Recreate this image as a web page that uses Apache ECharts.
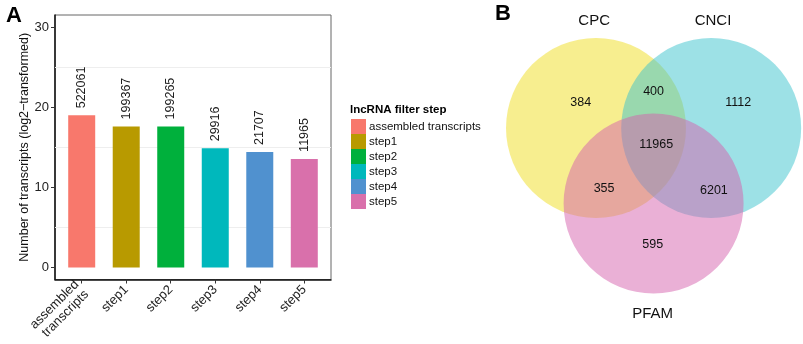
<!DOCTYPE html>
<html>
<head>
<meta charset="utf-8">
<script src="https://cdn.jsdelivr.net/npm/echarts@6/dist/echarts.min.js"></script>
<style>
  html, body { margin: 0; padding: 0; background: #fff; }
  #chart { width: 803px; height: 344px; }
</style>
</head>
<body>
<div id="chart"></div>
<script>
// panel A data
var categories = ['assembled\ntranscripts', 'step1', 'step2', 'step3', 'step4', 'step5'];
var legendNames = ['assembled transcripts', 'step1', 'step2', 'step3', 'step4', 'step5'];
var log2Counts = [18.99, 17.6, 17.6, 14.87, 14.41, 13.55];
var countLabels = ['522061', '199367', '199265', '29916', '21707', '11965'];
var barColors = ['#F8786C', '#B89A00', '#00B03C', '#00B8BC', '#5091CF', '#D970AB'];
var yTicks = [0, 10, 20, 30];
var yMinorGrid = [5, 15, 25];

// panel B data (venn)
var vennSets = ['CPC', 'CNCI', 'PFAM'];
var vennCenters = [[0, 0], [1.28, 0], [0.64, -0.84]];
var vennRadius = 1;
var vennColors = ['#EFDD20', '#3BC3CD', '#D561AD'];
var vennSetLabelPos = [[-0.02, 1.19], [1.3, 1.19], [0.63, -2.06]];
var vennCounts = ['384', '400', '1112', '11965', '355', '6201', '595'];
var vennCountPos = [[-0.17, 0.28], [0.64, 0.4], [1.58, 0.28], [0.67, -0.18], [0.09, -0.67], [1.31, -0.69], [0.63, -1.29]];

var FONT = 'Liberation Sans';

var series = [];

// faint minor grid lines, kept behind the bars
series.push({
    type: 'line',
    xAxisIndex: 0,
    yAxisIndex: 0,
    z: 1,
    silent: true,
    data: [],
    markLine: {
        z: 1,
        silent: true,
        symbol: 'none',
        label: { show: false },
        lineStyle: { color: '#EEEEEE', width: 1, type: 'solid' },
        data: yMinorGrid.map(function (v) { return { yAxis: v }; })
    }
});

for (var i = 0; i < categories.length; i++) {
    series.push({
        name: legendNames[i],
        type: 'bar',
        xAxisIndex: 0,
        yAxisIndex: 0,
        z: 3,
        barWidth: 27,
        barGap: '-100%',
        itemStyle: { color: barColors[i] },
        label: {
            show: true,
            position: 'top',
            rotate: 90,
            align: 'left',
            verticalAlign: 'middle',
            distance: 7,
            fontFamily: FONT,
            fontSize: 12.5,
            color: '#1a1a1a',
            formatter: (function (k) { return function () { return countLabels[k]; }; })(i)
        },
        data: [[i + 1, log2Counts[i]]]
    });
}

series.push({
    type: 'custom',
    xAxisIndex: 1,
    yAxisIndex: 1,
    silent: true,
    renderItem: function (params, api) {
        var c = api.coord([api.value(0), api.value(1)]);
        var r = api.size([vennRadius, 0])[0];
        return {
            type: 'circle',
            shape: { cx: c[0], cy: c[1], r: r },
            style: { fill: vennColors[params.dataIndex], opacity: 0.5 }
        };
    },
    data: vennCenters
});

function textSeries(texts, positions, size) {
    return {
        type: 'custom',
        xAxisIndex: 1,
        yAxisIndex: 1,
        silent: true,
        z: 5,
        renderItem: function (params, api) {
            var c = api.coord([api.value(0), api.value(1)]);
            return {
                type: 'text',
                x: c[0],
                y: c[1],
                style: {
                    text: texts[params.dataIndex],
                    fontFamily: FONT,
                    fontSize: size,
                    fill: '#111',
                    align: 'center',
                    verticalAlign: 'middle'
                }
            };
        },
        data: positions
    };
}

series.push(textSeries(vennCounts, vennCountPos, 12.5));
series.push(textSeries(vennSets, vennSetLabelPos, 15));

var option = {
    animation: false,
    title: [
        { text: 'A', left: 1, top: 0, textStyle: { fontFamily: FONT, fontSize: 22, fontWeight: 'bold', color: '#000' } },
        { text: 'B', left: 490, top: -2, textStyle: { fontFamily: FONT, fontSize: 22, fontWeight: 'bold', color: '#000' } },
        { text: 'lncRNA filter step', left: 345, top: 99, textStyle: { fontFamily: FONT, fontSize: 11.5, fontWeight: 'bold', color: '#000' } }
    ],
    legend: {
        orient: 'vertical',
        left: 346,
        top: 114,
        itemWidth: 15,
        itemHeight: 15,
        itemGap: 0,
        icon: 'rect',
        selectedMode: false,
        textStyle: { fontFamily: FONT, fontSize: 11.5, color: '#111', padding: [0, 0, 0, -2] },
        data: legendNames
    },
    grid: [
        { left: 55, top: 15, width: 276, height: 267, show: true, borderColor: '#666', borderWidth: 1, backgroundColor: '#fff' },
        { left: 480, top: 0, width: 320, height: 344 }
    ],
    xAxis: [
        {
            type: 'value',
            gridIndex: 0,
            min: 0.4,
            max: 6.6,
            axisLine: { show: true, onZero: false, lineStyle: { color: '#111', width: 1.5 } },
            axisTick: { show: true, length: 4, customValues: [1, 2, 3, 4, 5, 6], lineStyle: { color: '#333' } },
            splitLine: { show: false },
            axisLabel: {
                customValues: [1, 2, 3, 4, 5, 6],
                rotate: 45,
                margin: 8,
                fontFamily: FONT,
                fontSize: 13,
                lineHeight: 14,
                color: '#222',
                formatter: function (v) { return categories[Math.round(v) - 1]; }
            }
        },
        { type: 'value', gridIndex: 1, min: -1.289, max: 2.267, show: false }
    ],
    yAxis: [
        {
            type: 'value',
            gridIndex: 0,
            min: -1.5,
            max: 31.5,
            name: 'Number of transcripts (log2\u2212transformed)',
            nameLocation: 'middle',
            nameGap: 22,
            nameTextStyle: { fontFamily: FONT, fontSize: 12.5, color: '#111' },
            axisLine: { show: true, lineStyle: { color: '#111', width: 1.5 } },
            axisTick: { show: true, length: 4, customValues: yTicks, lineStyle: { color: '#333' } },
            splitLine: { show: false },
            axisLabel: { customValues: yTicks, margin: 6, fontFamily: FONT, fontSize: 13, color: '#222' }
        },
        { type: 'value', gridIndex: 1, min: -2.4, max: 1.422, show: false }
    ],
    series: series
};

var chart = echarts.init(document.getElementById('chart'));
chart.setOption(option);
</script>
</body>
</html>
